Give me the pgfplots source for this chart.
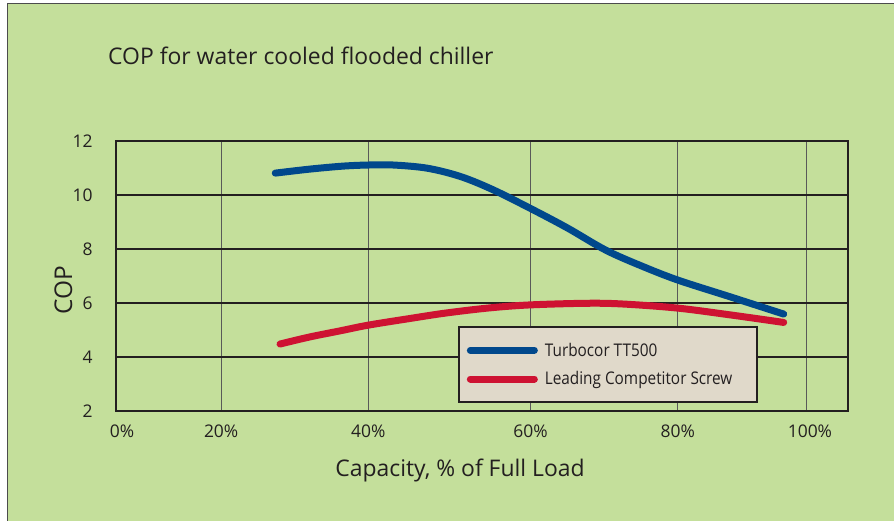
\documentclass[border=0pt]{standalone}
\usepackage{pgfplots}
\pgfplotsset{compat=1.18}
\usepackage{fontspec}
\setmainfont{Open Sans}
\newfontfamily\legfont[FakeStretch=0.88]{Open Sans}
\definecolor{bggreen}{RGB}{196,223,155}
\definecolor{tblue}{RGB}{0,72,140}
\definecolor{tred}{RGB}{206,18,50}
\definecolor{legfill}{RGB}{224,217,202}
\definecolor{txt}{RGB}{35,31,32}
\begin{document}
\begin{tikzpicture}[x=1bp,y=1bp]
\useasboundingbox (0,0) rectangle (894,521);
\fill[white] (0,0) rectangle (894,521);
\fill[bggreen] (7.5,0) rectangle (894,517.5);
\draw[line width=1.5bp, black!70] (7.5,-2) -- (7.5,517.5) -- (896,517.5);
\node[anchor=base west, inner sep=0pt, text=txt, font=\fontsize{23}{27}\selectfont] at (108,456) {COP for water cooled flooded chiller};
\begin{axis}[
  at={(116bp,110bp)}, anchor=south west,
  scale only axis, width=732bp, height=270bp,
  x coord trafo/.code={\pgfmathparse{ifthenelse(#1<=20, #1*5.25, ifthenelse(#1<=40, 105+(#1-20)*7.35, ifthenelse(#1<=60, 252+(#1-40)*8.1, ifthenelse(#1<=80, 414+(#1-60)*7.35, 561+(#1-80)*6.45))))}},
  xmin=0, xmax=106.36, ymin=2, ymax=12,
  xtick={0,20,40,60,80,100},
  xticklabels={\hspace*{12bp}0\%,20\%,40\%,60\%,80\%,\hspace*{6bp}100\%},
  ytick={2,4,6,8,10,12},
  /pgf/number format/assume math mode=true,
  major tick length=0pt,
  xmajorgrids, ymajorgrids,
  x grid style={line width=1bp, color=black!65},
  y grid style={line width=1.3bp, color=txt},
  axis line style={line width=2.2bp, color=txt},
  tick label style={text=txt, font=\fontsize{17.5}{20}\selectfont},
  yticklabel style={xshift=-20bp},
  xticklabel style={yshift=-10bp},
  xlabel={Capacity, \% of Full Load},
  ylabel={COP},
  xlabel style={text=txt, font=\fontsize{23}{27}\selectfont, at={(axis description cs:0.47,0)}, anchor=base, yshift=-66bp},
  ylabel style={text=txt, font=\fontsize{24.5}{28}\selectfont, at={(axis description cs:-0.072,0.448)}, anchor=center},
  legend cell align=left,
  legend image code/.code={\draw[#1, line width=7bp, line cap=round] (3.5bp,0bp) -- (67.5bp,0bp);},
  legend style={at={(axis description cs:0.467,0.315)}, anchor=north west,
    fill=legfill, draw=txt, line width=2bp, inner xsep=8bp, inner ysep=14bp,
    font=\legfont\fontsize{17.5}{20}\selectfont, text=txt, row sep=10bp, column sep=5bp,
    nodes={inner xsep=2bp, inner ysep=2bp}},
]
\addplot[tblue, line width=7bp, line cap=round, smooth, tension=0.55] coordinates {
(27.35,10.81) (32.1,10.96) (36.6,11.07) (40,11.11) (43.1,11.11) (47.3,10.99) (51.4,10.68)
(55.4,10.19) (60,9.5) (65,8.78) (70.2,7.96) (75,7.38) (80,6.85) (88.1,6.23) (96.4,5.59)
};
\addlegendentry{\makebox[202bp][l]{Turbocor TT500}}
\addplot[tred, line width=7bp, line cap=round, smooth, tension=0.55] coordinates {
(28.0,4.48) (32,4.74) (36.2,4.97) (40,5.18) (45,5.42) (49.6,5.63) (55,5.82) (60,5.93)
(67.8,5.99) (72.7,5.96) (80,5.81) (88.1,5.56) (96.4,5.28)
};
\addlegendentry{\makebox[202bp][l]{Leading Competitor Screw\rule[-10.5bp]{0pt}{0pt}}}
\end{axis}
\end{tikzpicture}
\end{document}
